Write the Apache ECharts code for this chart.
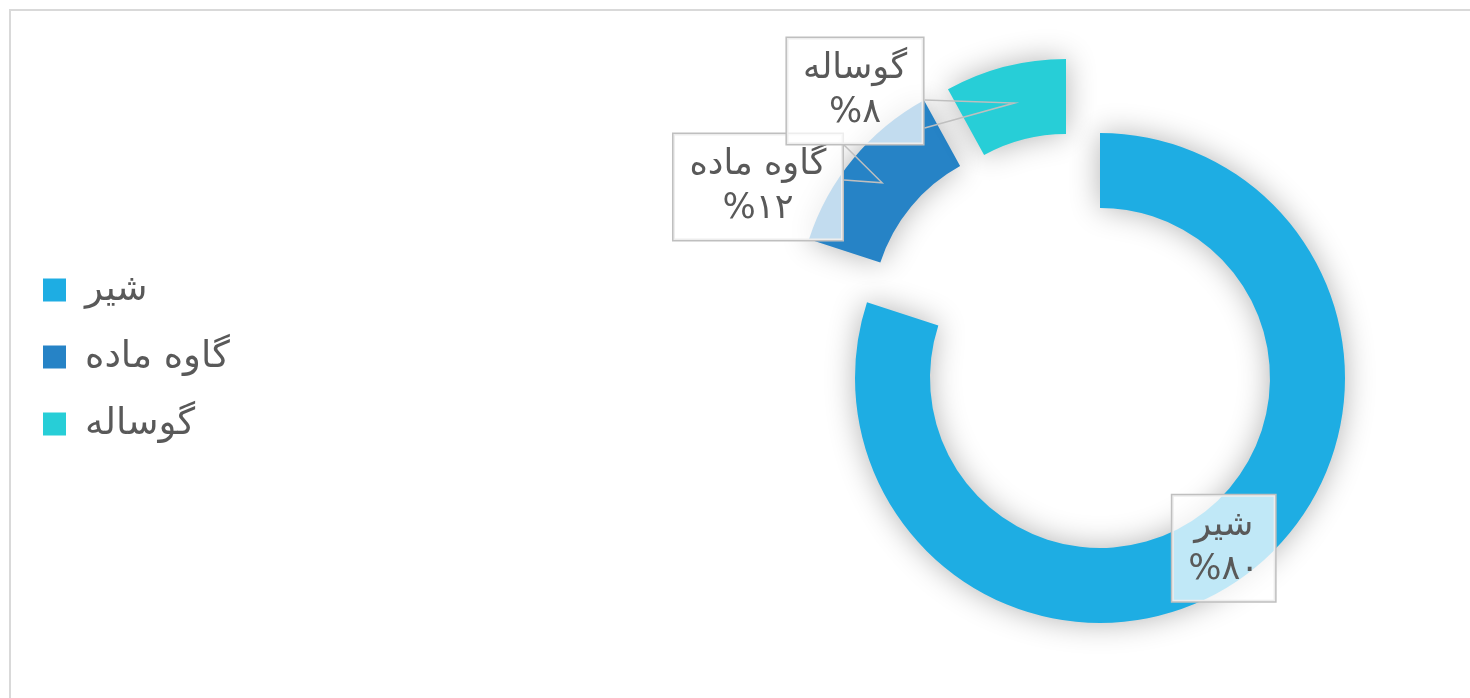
<!doctype html>
<html>
	<head>
		<meta charset="UTF-8">
		<title></title>
		<style>
			html, body {
				margin: 0;
				padding: 0;
				overflow: hidden;
				background: #fff;
			}
			#main {
				position: absolute;
				left: 0;
				top: 0;
				width: 1470px;
				height: 698px;
			}
			.frame {
				position: absolute;
				left: 9px;
				top: 9px;
				width: 1600px;
				height: 800px;
				border: 2px solid #d9d9d9;
				pointer-events: none;
			}
		</style>
	</head>
	<body>
		<div class="frame"></div>
		<div id="main"></div>
		<script src="https://cdn.jsdelivr.net/npm/echarts/dist/echarts.min.js"></script>
		<script>
			var names = ['شیر', 'گاوه ماده', 'گوساله'];
			var values = [80, 12, 8];
			var colors = ['#1eade3', '#2683c6', '#27ced7'];

			// each slice is its own pie, so the pulled-out ones get their own centre
			var centers = [[1100, 378], [1042, 315], [1066, 304]];
			var radius = [170, 245];
			// label box centres for the pulled-out slices (px)
			var labelPos = [null, [758, 187], [855, 91]];
			// where the callout leaves the box's right side, relative to box centre y
			var pointerSpan = [null, [-42, -7], [9, 37]];

			var font = 'DejaVu Sans';
			var total = values.reduce(function(a, b) { return a + b; }, 0);

			function toFa(n) {
				return String(n).replace(/\d/g, function(d) { return '۰۱۲۳۴۵۶۷۸۹'[d]; });
			}

			function labelText(k) {
				return names[k] + '\n%' + toFa(Math.round(values[k] / total * 100));
			}

			// middle of the ring band at the slice's mid angle
			function sliceTip(k) {
				var before = 0;
				for (var j = 0; j < k; j++) before += values[j];
				var a = (before + values[k] / 2) / total * Math.PI * 2;
				var r = (radius[0] + radius[1]) / 2;
				return [centers[k][0] + r * Math.sin(a), centers[k][1] - r * Math.cos(a)];
			}

			var labelBox = {
				fontFamily: font,
				fontSize: 35,
				lineHeight: 44,
				color: '#595959',
				align: 'center',
				backgroundColor: 'rgba(255, 255, 255, 0.72)',
				borderColor: '#bfbfbf',
				borderWidth: 1.5,
				padding: [9, 16]
			};

			var hidden = {
				itemStyle: { color: 'rgba(0,0,0,0)', shadowBlur: 0 },
				label: { show: false },
				labelLine: { show: false }
			};

			function sliceData(k) {
				var arr = [];
				for (var j = 0; j < names.length; j++) {
					if (j === k) {
						arr.push({
							name: names[j],
							value: values[j],
							itemStyle: {
								color: colors[j],
								shadowBlur: 30,
								shadowColor: 'rgba(0, 0, 0, 0.3)'
							}
						});
					} else {
						arr.push(echarts.util.extend({ name: '', value: values[j] }, hidden));
					}
				}
				return arr;
			}

			// invisible copy of one pie that only carries the callout label
			function calloutData(k) {
				var arr = [];
				for (var j = 0; j < names.length; j++) {
					var item = echarts.util.extend({ name: '', value: values[j] }, hidden);
					if (j === k) {
						item = {
							name: '',
							value: values[j],
							itemStyle: { color: 'rgba(0,0,0,0)' }
						};
					}
					arr.push(item);
				}
				return arr;
			}

			var series = [];
			for (var i = 0; i < names.length; i++) {
				series.push({
					type: 'pie',
					z: 2,
					center: centers[i],
					radius: radius,
					startAngle: 90,
					clockwise: true,
					silent: true,
					emphasis: { disabled: true },
					label: echarts.util.extend({
						show: i === 0,
						position: 'inside',
						formatter: function(p) { return labelText(p.dataIndex); }
					}, labelBox),
					labelLine: { show: false },
					data: sliceData(i)
				});
			}
			for (var k = 1; k < names.length; k++) {
				series.push({
					type: 'pie',
					z: 5,
					center: centers[k],
					radius: radius,
					startAngle: 90,
					clockwise: true,
					silent: true,
					avoidLabelOverlap: false,
					emphasis: { disabled: true },
					label: echarts.util.extend({
						show: true,
						position: 'outside',
						formatter: function(p) { return labelText(p.dataIndex); }
					}, labelBox),
					labelLine: {
						show: true,
						lineStyle: { color: '#bfbfbf', width: 1.5 }
					},
					labelLayout: (function(k) {
						return function(p) {
							var pos = labelPos[k];
							var edge = pos[0] + p.labelRect.width / 2;
							return {
								x: pos[0],
								y: pos[1],
								align: 'center',
								verticalAlign: 'middle',
								labelLinePoints: [
									[edge, pos[1] + pointerSpan[k][0]],
									sliceTip(k),
									[edge, pos[1] + pointerSpan[k][1]]
								]
							};
						};
					})(k),
					data: calloutData(k)
				});
			}

			var byId = function(id) {
				return document.getElementById(id);
			};
			var chart = echarts.init(byId('main'));

			chart.setOption({
				animation: false,
				legend: {
					orient: 'vertical',
					left: 38,
					top: 263,
					icon: 'rect',
					itemWidth: 23,
					itemHeight: 23,
					itemGap: 23,
					selectedMode: false,
					data: names,
					textStyle: {
						fontFamily: font,
						fontSize: 37,
						lineHeight: 44,
						color: '#595959',
						padding: [0, 0, 0, 14]
					}
				},
				series: series
			});
		</script>
	</body>
</html>
